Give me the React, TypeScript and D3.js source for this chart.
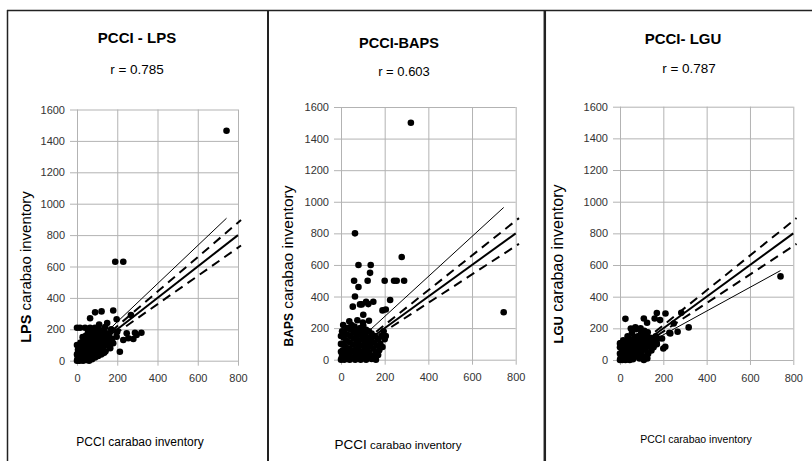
import { useEffect, useRef } from "react";
import * as d3 from "d3";

// axis ticks shared by all three panels
const xTicks = [0, 200, 400, 600, 800];
const yTicks = [0, 200, 400, 600, 800, 1000, 1200, 1400, 1600];

const titles = ["PCCI - LPS", "PCCI-BAPS", "PCCI- LGU"];
const rLabels = ["r = 0.785", "r = 0.603", "r = 0.787"];
const yPrefixes = ["LPS", "BAPS", "LGU"];

// reference lines: 1:1 line up to 800, +/-10% band up to ~815
const identityEnd = 800;
const bandFactors = [1.1, 0.9];
const bandEnd = 815;

// fitted regression lines: slope, intercept, last x
const lpsFit = [1.216, 4, 743];
const bapsFit = [1.267, 20, 745];
const lguFit = [0.75, 9, 741];

// PCCI (x) vs LPS (y)
const lpsPoints: [number, number][] = [
  [743, 1465], [190, 630], [230, 630], [0, 210], [15, 210], [40, 210], [65, 210], [89, 210],
  [65, 270], [90, 308], [122, 314], [180, 320], [197, 264], [268, 291], [200, 185], [197, 153],
  [247, 175], [288, 178], [320, 178], [280, 138], [213, 57], [180, 111], [230, 132], [255, 143],
  [296, 164], [150, 240], [110, 230], [170, 200], [140, 215], [160, 170], [175, 140],
  [0, 0], [2, 5], [5, 12], [8, 3], [10, 20], [12, 35], [15, 8], [18, 50], [20, 25], [22, 70],
  [25, 15], [28, 40], [30, 90], [32, 55], [35, 5], [38, 30], [40, 110], [42, 75], [45, 20],
  [48, 60], [50, 130], [52, 95], [55, 40], [58, 10], [60, 150], [62, 80], [65, 115], [68, 50],
  [70, 25], [72, 140], [75, 95], [78, 170], [80, 60], [82, 120], [85, 35], [88, 195], [90, 85],
  [92, 150], [95, 110], [98, 55], [100, 180], [102, 130], [105, 75], [108, 200], [110, 160],
  [112, 95], [115, 45], [118, 140], [120, 185], [122, 110], [125, 70], [128, 160], [130, 130],
  [132, 90], [135, 200], [138, 150], [140, 115], [142, 60], [145, 175], [148, 135], [150, 100],
  [155, 150], [160, 120], [165, 80], [10, 60], [15, 80], [5, 45], [25, 100], [35, 130],
  [45, 160], [55, 185], [65, 200], [3, 30], [12, 0], [20, 5], [30, 0], [45, 5], [60, 0],
  [75, 10], [90, 20], [105, 30], [120, 40], [135, 50], [0, 100], [5, 70], [0, 40], [18, 115],
  [28, 150], [8, 90],
];

// PCCI (x) vs BAPS (y)
const bapsPoints: [number, number][] = [
  [320, 1500], [64, 800], [80, 600], [136, 600], [133, 550], [60, 500], [122, 500], [80, 460],
  [64, 400], [54, 336], [87, 350], [95, 350], [115, 367], [125, 352], [148, 367], [102, 285],
  [200, 500], [243, 500], [255, 500], [289, 500], [278, 650], [225, 378], [190, 312], [205, 318],
  [128, 247], [38, 243], [75, 250], [195, 180], [195, 145], [745, 300], [100, 235],
  [0, 0], [3, 10], [5, 30], [8, 60], [10, 100], [12, 140], [15, 180], [18, 20], [20, 45],
  [22, 80], [25, 120], [28, 160], [30, 200], [32, 5], [35, 35], [38, 70], [40, 110], [42, 150],
  [45, 190], [48, 220], [50, 15], [52, 55], [55, 95], [58, 135], [60, 175], [62, 210], [65, 25],
  [68, 65], [70, 105], [72, 145], [75, 185], [78, 40], [80, 80], [82, 120], [85, 160], [88, 200],
  [90, 10], [92, 50], [95, 90], [98, 130], [100, 170], [102, 215], [105, 30], [108, 70],
  [110, 110], [112, 150], [115, 190], [118, 20], [120, 60], [122, 100], [125, 140], [128, 180],
  [130, 45], [135, 85], [138, 125], [140, 165], [145, 25], [148, 70], [150, 110], [155, 150],
  [160, 40], [165, 90], [170, 130], [175, 60], [180, 100], [185, 150], [190, 80], [200, 130],
  [205, 150], [0, 50], [0, 100], [0, 150], [5, 180], [15, 0], [40, 0], [65, 0], [90, 0],
  [115, 0], [140, 5], [160, 0], [10, 220], [150, 20], [170, 30],
];

// PCCI (x) vs LGU (y)
const lguPoints: [number, number][] = [
  [741, 528], [25, 260], [110, 262], [125, 235], [170, 297], [185, 252], [210, 294], [283, 298],
  [317, 206], [248, 231], [232, 168], [266, 178], [194, 136], [209, 84], [50, 199], [71, 206],
  [160, 262], [228, 172], [169, 105], [200, 73], [126, 10], [0, 105],
  [0, 0], [2, 8], [5, 20], [8, 35], [10, 50], [12, 65], [15, 80], [18, 100], [20, 10], [22, 30],
  [25, 55], [28, 75], [30, 95], [32, 115], [35, 5], [38, 25], [40, 45], [42, 70], [45, 90],
  [48, 110], [50, 130], [52, 15], [55, 40], [58, 60], [60, 85], [62, 105], [65, 125], [68, 145],
  [70, 20], [72, 50], [75, 75], [78, 100], [80, 120], [82, 150], [85, 30], [88, 60], [90, 90],
  [92, 115], [95, 140], [98, 170], [100, 45], [102, 75], [105, 100], [108, 130], [110, 160],
  [112, 185], [115, 20], [118, 65], [120, 95], [122, 120], [125, 150], [128, 175], [130, 40],
  [135, 85], [138, 110], [140, 140], [145, 60], [148, 100], [150, 130], [155, 80], [160, 115],
  [165, 150], [170, 100], [175, 135], [0, 40], [0, 80], [3, 105], [10, 0], [25, 0], [45, 0],
  [60, 5], [90, 10], [110, 0], [15, 125], [35, 150], [55, 170], [75, 195], [95, 200],
];

const pointSets = [lpsPoints, bapsPoints, lguPoints];
const fits = [lpsFit, bapsFit, lguFit];

// where each panel sits on the page
const layout = [
  { left: 77, right: 238, top: 109.5, bottom: 360.7, titleX: 137, titleY: 43, titleSize: 15,
    rX: 137, rY: 74, rSize: 13.5, yLabX: 25, yLabY: 267, preSize: 14.5, restSize: 15,
    xTitleX: 140, xTitleY: 446, pcciSize: 12, tailSize: 12 },
  { left: 341, right: 515.7, top: 107, bottom: 359.7, titleX: 399, titleY: 48, titleSize: 14.5,
    rX: 404, rY: 76, rSize: 13, yLabX: 287, yLabY: 266, preSize: 12, restSize: 15.5,
    xTitleX: 398, xTitleY: 449, pcciSize: 13.5, tailSize: 11.5 },
  { left: 620, right: 793.3, top: 106.7, bottom: 360, titleX: 683, titleY: 44, titleSize: 15,
    rX: 689, rY: 73, rSize: 13.5, yLabX: 557, yLabY: 264, preSize: 13, restSize: 16,
    xTitleX: 696, xTitleY: 443, pcciSize: 10.5, tailSize: 10.5 },
];

const font = "'Liberation Sans', Arial, sans-serif";
const gridColor = "#b3b3b3";

const App = () => {
  const svgRef = useRef<SVGSVGElement>(null);

  useEffect(() => {
    const svg = d3.select(svgRef.current);
    svg.selectAll("*").remove();

    // outer frame
    const frame = svg.append("g").attr("stroke", "#222").attr("fill", "none");
    frame.append("line").attr("x1", 7).attr("x2", 812).attr("y1", 10.5).attr("y2", 10.5).attr("stroke-width", 1.5);
    frame.append("line").attr("x1", 7.5).attr("x2", 7.5).attr("y1", 10).attr("y2", 461).attr("stroke-width", 1.5);
    frame.append("line").attr("x1", 268).attr("x2", 268).attr("y1", 10).attr("y2", 461).attr("stroke-width", 2);
    frame.append("line").attr("x1", 544.8).attr("x2", 544.8).attr("y1", 10).attr("y2", 461).attr("stroke-width", 2.5);

    layout.forEach((p, i) => {
      const x = d3.scaleLinear().domain([0, 800]).range([p.left, p.right]);
      const y = d3.scaleLinear().domain([0, 1600]).range([p.bottom, p.top]);
      const g = svg.append("g").attr("font-family", font);

      // y axis + horizontal grid
      const yAxis = d3.axisLeft(y).tickValues(yTicks).tickFormat(d3.format("d"))
        .tickSizeInner(-(p.right - p.left + 7)).tickSizeOuter(0).tickPadding(5);
      const ya = g.append("g").attr("transform", `translate(${p.left - 7},0)`).call(yAxis);
      ya.select(".domain").remove();
      ya.selectAll("line").attr("stroke", gridColor);
      ya.selectAll("text").attr("font-size", 11).attr("fill", "#333").attr("font-family", font);

      // x axis + vertical grid
      const xAxis = d3.axisBottom(x).tickValues(xTicks).tickFormat(d3.format("d"))
        .tickSizeInner(-(p.bottom - p.top + 5)).tickSizeOuter(0).tickPadding(9);
      const xa = g.append("g").attr("transform", `translate(0,${p.bottom + 5})`).call(xAxis);
      xa.select(".domain").remove();
      xa.selectAll("line").attr("stroke", gridColor);
      xa.selectAll("text").attr("font-size", 11).attr("fill", "#333").attr("font-family", font);

      // titles
      g.append("text").attr("x", p.titleX).attr("y", p.titleY).attr("text-anchor", "middle")
        .attr("font-weight", "bold").attr("font-size", p.titleSize).text(titles[i]);
      g.append("text").attr("x", p.rX).attr("y", p.rY).attr("text-anchor", "middle")
        .attr("font-size", p.rSize).text(rLabels[i]);

      // y label
      const yl = g.append("text").attr("transform", `translate(${p.yLabX},${p.yLabY}) rotate(-90)`)
        .attr("text-anchor", "middle").attr("dy", "0.35em");
      yl.append("tspan").attr("font-weight", "bold").attr("font-size", p.preSize).text(yPrefixes[i]);
      yl.append("tspan").attr("font-size", p.restSize).text(" carabao inventory");

      // x label
      const xl = g.append("text").attr("x", p.xTitleX).attr("y", p.xTitleY).attr("text-anchor", "middle");
      xl.append("tspan").attr("font-size", p.pcciSize).text("PCCI");
      xl.append("tspan").attr("font-size", p.tailSize).text(" carabao inventory");

      const line = d3.line<[number, number]>().x((d) => x(d[0])).y((d) => y(d[1]));

      // regression line (thin)
      const [slope, intercept, xMax] = fits[i];
      g.append("path")
        .attr("d", line([[0, intercept], [xMax, slope * xMax + intercept]]))
        .attr("stroke", "#000").attr("stroke-width", 1).attr("fill", "none");

      // +/-10% dashed band
      bandFactors.forEach((f) => {
        g.append("path")
          .attr("d", line([[0, 0], [bandEnd, f * bandEnd]]))
          .attr("stroke", "#000").attr("stroke-width", 2).attr("stroke-dasharray", "9,6").attr("fill", "none");
      });

      // 1:1 line
      g.append("path")
        .attr("d", line([[0, 0], [identityEnd, identityEnd]]))
        .attr("stroke", "#000").attr("stroke-width", 2).attr("fill", "none");

      // points
      g.append("g").selectAll("circle").data(pointSets[i]).join("circle")
        .attr("cx", (d) => x(d[0])).attr("cy", (d) => y(d[1])).attr("r", 3.3).attr("fill", "#000");
    });
  }, []);

  return (
    <svg ref={svgRef} width={812} height={461}
      style={{ position: "absolute", left: 0, top: 0, background: "#fff" }} />
  );
};

export default App;
